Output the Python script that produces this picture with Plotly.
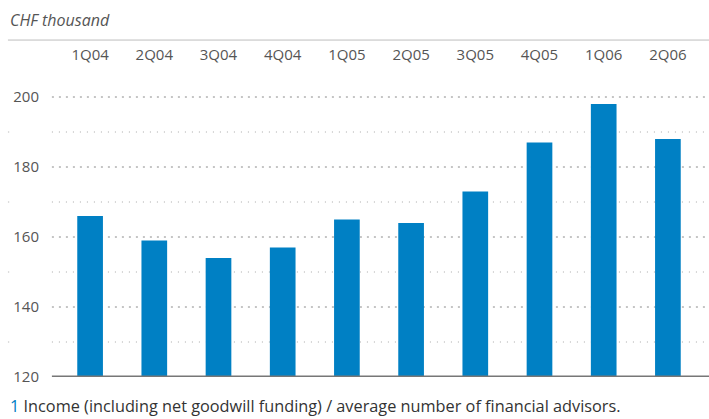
import plotly.graph_objects as go

quarters = ["1Q04", "2Q04", "3Q04", "4Q04", "1Q05", "2Q05", "3Q05", "4Q05", "1Q06", "2Q06"]
income_per_advisor = [166, 159, 154, 157, 165, 164, 173, 187, 198, 188]
major_ticks = [120, 140, 160, 180, 200]
minor_ticks = [130, 150, 170, 190]

BAR = "#0080c4"
TXT = "#555555"
FONT = "Open Sans"

fig = go.Figure()
fig.add_trace(go.Bar(
    x=quarters, y=income_per_advisor, width=0.4,
    marker=dict(color=BAR, line=dict(width=0)),
    hoverinfo="x+y",
))

shapes = []
# dotted horizontal guides at every 10
for v in major_ticks[1:]:
    shapes.append(dict(type="line", xref="paper", yref="y", x0=-0.0095, x1=1.008,
                       y0=v, y1=v, layer="below",
                       line=dict(color="#8a8a8a", width=1, dash="2px,5px")))
for v in minor_ticks:
    shapes.append(dict(type="line", xref="paper", yref="y", x0=-0.0095, x1=1.008,
                       y0=v, y1=v, layer="below",
                       line=dict(color="#a8a8a8", width=1, dash="1px,6px")))
# small marks at the minor values on the left edge
for v in minor_ticks:
    shapes.append(dict(type="line", xref="paper", yref="y", x0=-0.078, x1=-0.076,
                       y0=v, y1=v, line=dict(color="#bbbbbb", width=1)))
# baseline
shapes.append(dict(type="line", xref="paper", yref="y", x0=-0.0095, x1=1.02,
                   y0=120, y1=120, line=dict(color="#777777", width=3)))
# rule under the unit label
shapes.append(dict(type="line", xref="paper", yref="paper", x0=-0.078, x1=1.02,
                   y0=1.174, y1=1.174, line=dict(color="#bdbdbd", width=1)))

fig.update_layout(
    width=709, height=419,
    margin=dict(l=58, r=9, t=90, b=42),
    paper_bgcolor="white", plot_bgcolor="white",
    showlegend=False,
    shapes=shapes,
    font=dict(family=FONT, color=TXT),
    bargap=0.6,
    xaxis=dict(
        type="category", side="top", range=[-0.5, 9.5],
        showgrid=False, showline=False, zeroline=False, ticks="",
        ticklabelstandoff=26,
        tickfont=dict(size=15, color=TXT, family=FONT),
    ),
    yaxis=dict(
        range=[120, 202], tickvals=major_ticks,
        showgrid=False, zeroline=False, showline=False, ticks="",
        ticklabelstandoff=18,
        tickfont=dict(size=15, color=TXT, family=FONT),
    ),
    annotations=[
        dict(text="<i>CHF thousand</i>", xref="paper", yref="paper",
             x=-0.078, y=1.244, xanchor="left", yanchor="middle", showarrow=False,
             font=dict(size=16, color=TXT, family=FONT)),
        dict(text="<span style='color:%s'>1</span> Income (including net goodwill funding) / average number of financial advisors." % BAR,
             xref="paper", yref="paper", x=-0.078, y=-0.102,
             xanchor="left", yanchor="middle", showarrow=False,
             font=dict(size=16.3, color="#333333", family=FONT)),
    ],
)

fig.write_html("out.html")
